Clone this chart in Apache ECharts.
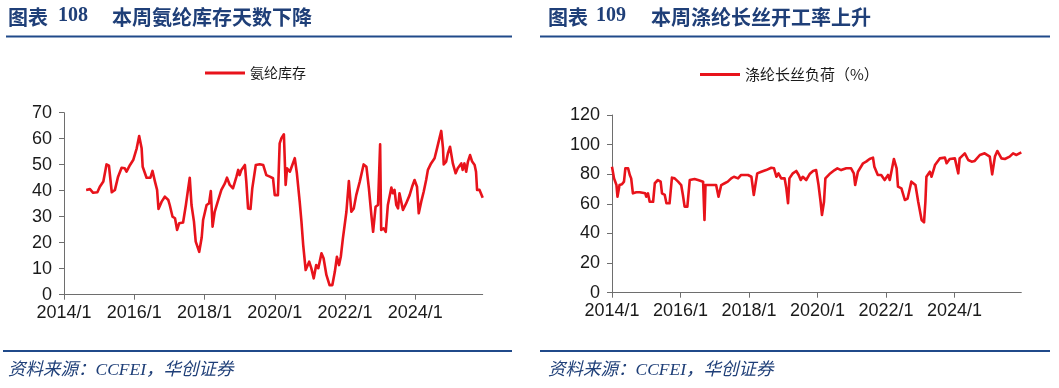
<!DOCTYPE html>
<html>
<head>
<meta charset="utf-8">
<script src="https://cdn.jsdelivr.net/npm/echarts@6/dist/echarts.min.js"></script>
<style>
html,body{margin:0;padding:0;background:#fff;}
#c{width:1059px;height:388px;}
</style>
</head>
<body>
<div id="c"></div>
<script>
// ---------- Data ----------
const xTickYears = [2014, 2016, 2018, 2020, 2022, 2024];

// Left: 氨纶库存 (days)
const spandexYears = [
  2014.63,2014.74,2014.83,2014.95,2015.02,2015.12,2015.17,2015.21,2015.28,2015.36,
  2015.45,2015.54,2015.64,2015.73,2015.78,2015.88,2015.97,2016.07,2016.14,2016.21,
  2016.24,2016.35,2016.46,2016.52,2016.59,2016.65,2016.69,2016.78,2016.87,2016.97,
  2017.01,2017.09,2017.16,2017.22,2017.28,2017.39,2017.47,2017.53,2017.58,2017.63,
  2017.70,2017.75,2017.85,2017.87,2017.92,2017.96,2018.06,2018.13,2018.18,2018.23,
  2018.26,2018.29,2018.39,2018.48,2018.58,2018.64,2018.72,2018.81,2018.91,2018.96,
  2019.00,2019.05,2019.15,2019.19,2019.24,2019.31,2019.36,2019.46,2019.57,2019.67,
  2019.76,2019.86,2019.95,2020.00,2020.09,2020.14,2020.19,2020.26,2020.31,2020.35,
  2020.43,2020.50,2020.57,2020.63,2020.71,2020.76,2020.81,2020.88,2020.92,2020.98,
  2021.04,2021.11,2021.18,2021.24,2021.33,2021.39,2021.47,2021.56,2021.64,2021.71,
  2021.77,2021.83,2021.88,2021.94,2022.04,2022.11,2022.18,2022.25,2022.32,2022.42,
  2022.53,2022.61,2022.68,2022.75,2022.80,2022.87,2022.94,2023.00,2023.03,2023.10,
  2023.16,2023.22,2023.32,2023.36,2023.41,2023.46,2023.51,2023.55,2023.60,2023.65,
  2023.74,2023.84,2023.91,2023.98,2024.05,2024.10,2024.17,2024.24,2024.31,2024.36,
  2024.45,2024.55,2024.62,2024.69,2024.74,2024.79,2024.81,2024.88,2024.93,2024.99,
  2025.07,2025.15,2025.21,2025.31,2025.35,2025.40,2025.45,2025.50,2025.56,2025.62,
  2025.69,2025.73,2025.76,2025.83,2025.92
];
const spandexDays = [
  40.3,40.6,39.2,39.4,41.5,43.5,44.1,50.1,49.6,39.4,
  40.3,45.4,48.8,48.6,47.3,49.9,51.8,56.3,61.0,56.3,
  49.2,45.0,45.0,47.6,43.5,40.3,33.0,35.8,37.7,36.4,
  34.5,30.0,29.4,24.9,27.5,27.8,34.5,40.3,45.0,34.5,
  28.1,20.4,16.5,15.9,22.0,28.7,34.5,35.1,39.9,26.2,
  26.2,31.9,36.4,40.3,42.8,45.0,42.2,40.9,45.4,48.0,
  46.0,48.0,49.9,43.5,33.2,33.0,40.9,49.9,50.2,49.9,
  46.0,45.4,44.8,38.3,38.3,58.2,60.2,61.7,42.2,48.6,
  47.3,49.9,52.5,46.7,35.8,28.1,19.1,9.5,8.8,12.7,
  10.2,6.3,11.4,10.2,15.9,14.0,7.6,3.7,3.7,8.8,
  14.6,11.4,14.6,21.7,31.9,43.7,31.9,33.2,38.3,43.5,
  50.1,49.2,40.9,30.7,24.2,33.8,34.5,57.8,24.9,25.5,
  24.2,34.5,41.2,39.0,40.3,34.5,33.2,39.0,35.8,32.6,
  35.1,38.3,41.5,44.1,41.5,31.3,35.8,39.6,44.1,48.0,
  50.5,52.5,56.3,60.2,63.0,56.3,50.1,51.2,54.4,56.9,
  50.5,46.7,48.6,50.5,48.0,50.5,47.3,51.2,53.7,51.2,
  49.9,47.3,40.3,40.3,37.3
];

// Right: 涤纶长丝负荷（%）
const filamentYears = [
  2014.00,2014.06,2014.13,2014.16,2014.22,2014.29,2014.35,2014.39,2014.47,2014.52,
  2014.56,2014.61,2014.71,2014.81,2014.97,2015.00,2015.05,2015.10,2015.20,2015.25,
  2015.34,2015.42,2015.46,2015.54,2015.59,2015.68,2015.75,2015.83,2015.93,2016.02,
  2016.07,2016.12,2016.20,2016.27,2016.41,2016.51,2016.66,2016.70,2016.73,2016.90,
  2017.04,2017.11,2017.19,2017.29,2017.38,2017.48,2017.56,2017.68,2017.77,2017.97,
  2018.07,2018.14,2018.18,2018.24,2018.36,2018.50,2018.65,2018.73,2018.80,2018.86,
  2018.94,2019.04,2019.09,2019.14,2019.18,2019.28,2019.38,2019.45,2019.51,2019.57,
  2019.67,2019.77,2019.87,2019.96,2020.03,2020.09,2020.13,2020.19,2020.23,2020.35,
  2020.50,2020.58,2020.69,2020.84,2020.98,2021.06,2021.10,2021.18,2021.33,2021.42,
  2021.52,2021.62,2021.66,2021.76,2021.86,2021.96,2022.06,2022.11,2022.23,2022.31,
  2022.35,2022.45,2022.55,2022.63,2022.74,2022.86,2022.94,2023.04,2023.11,2023.15,
  2023.18,2023.28,2023.33,2023.43,2023.57,2023.72,2023.77,2023.86,2024.01,2024.11,
  2024.15,2024.30,2024.40,2024.50,2024.59,2024.74,2024.88,2025.03,2025.10,2025.18,
  2025.25,2025.37,2025.47,2025.61,2025.71,2025.81,2025.95
];
const filamentLoad = [
  85.1,77.2,72.7,64.8,72.7,73.2,75.0,84.0,84.0,79.5,
  77.2,67.1,67.8,67.8,67.1,64.8,67.1,61.4,61.4,73.9,
  76.1,75.0,67.1,66.0,60.4,60.4,77.7,77.2,75.0,72.7,
  66.0,58.1,58.1,76.1,76.8,76.1,75.0,49.1,72.7,72.7,
  72.7,64.8,72.7,73.9,75.0,77.2,78.3,77.2,79.5,79.5,
  78.3,66.0,66.0,80.6,81.7,82.8,84.4,84.0,78.3,80.6,
  77.2,77.2,70.5,60.4,77.2,80.6,82.2,79.5,76.1,78.3,
  76.1,80.1,82.2,82.8,72.7,61.4,52.5,61.4,77.2,80.1,
  82.8,84.0,82.8,84.0,84.0,80.6,72.7,81.7,87.4,88.5,
  90.3,91.2,85.1,79.5,79.5,76.1,79.5,76.1,90.3,84.0,
  71.6,70.5,62.6,63.6,75.0,72.7,61.4,49.1,47.5,61.4,
  78.3,81.7,78.3,86.2,90.7,91.2,87.4,90.3,90.7,80.6,
  90.7,94.1,89.6,88.5,89.0,93.0,94.1,91.9,79.9,91.9,
  95.7,90.7,90.3,91.9,94.1,93.0,94.8
];

const spandexName = '氨纶库存';
const filamentName = '涤纶长丝负荷（%）';

// ---------- Styling ----------
const RED = '#E8131B';
const NAVY = '#1F3F78';
const LINE_BLUE = '#204A8A';
const AXIS = '#6e6e6e';
const LABEL_FONT = '"Liberation Sans", Arial, sans-serif';
const CJK = '"Noto Sans CJK SC", sans-serif';

function pairs(xs, ys) { return xs.map((x, i) => [x, ys[i]]); }

function xAxis(grid, max) {
  return {
    type: 'value', gridIndex: grid, min: 2014, max: max,
    axisLine: { show: true, lineStyle: { color: AXIS, width: 1 } },
    axisTick: { show: true, customValues: xTickYears, length: 5, lineStyle: { color: AXIS } },
    axisLabel: { customValues: xTickYears, formatter: v => v + '/1', fontSize: 18,
                 fontFamily: LABEL_FONT, color: '#1a1a1a', margin: 9 },
    splitLine: { show: false }
  };
}
function yAxis(grid, max, interval) {
  return {
    type: 'value', gridIndex: grid, min: 0, max: max, interval: interval,
    axisLine: { show: true, lineStyle: { color: AXIS, width: 1 } },
    axisTick: { show: true, length: 5, lineStyle: { color: AXIS } },
    axisLabel: { fontSize: 18, fontFamily: LABEL_FONT, color: '#1a1a1a', margin: 12 },
    splitLine: { show: false }
  };
}

function text(x, y, str, font, color, extra) {
  return Object.assign({ type: 'text', left: x, top: y, silent: true,
    style: { text: str, font: font, fill: color } }, extra || {});
}
function hline(x1, x2, y, w) {
  return { type: 'line', silent: true, shape: { x1: x1, y1: y, x2: x2, y2: y },
    style: { stroke: LINE_BLUE, lineWidth: w } };
}

const titleFont = 'bold 20px ' + CJK;
const numFont = 'bold 20px "Liberation Serif", "Times New Roman", serif';
const srcFont = 'italic 17.5px "Liberation Serif", "Noto Sans CJK SC", serif';

const chart = echarts.init(document.getElementById('c'), null, { renderer: 'canvas' });
chart.setOption({
  animation: false,
  backgroundColor: '#ffffff',
  grid: [
    { left: 64, top: 112.7, width: 418.7, height: 182, containLabel: false },
    { left: 612, top: 115, width: 409.3, height: 177.7, containLabel: false }
  ],
  legend: [
    { data: [{ name: spandexName, icon: 'rect' }], left: 205, top: 66, padding: 0, itemWidth: 40, itemHeight: 3,
      itemGap: 5, textStyle: { fontSize: 14, fontFamily: CJK, color: '#1a1a1a' }, selectedMode: false },
    { data: [{ name: filamentName, icon: 'rect' }], left: 700, top: 67, padding: 0, itemWidth: 40, itemHeight: 3,
      itemGap: 5, textStyle: { fontSize: 15, fontFamily: CJK, color: '#1a1a1a' }, selectedMode: false }
  ],
  xAxis: [xAxis(0, 2025.92), xAxis(1, 2025.95)],
  yAxis: [yAxis(0, 70, 10), yAxis(1, 120, 20)],
  series: [
    { name: spandexName, type: 'line', xAxisIndex: 0, yAxisIndex: 0, showSymbol: false,
      data: pairs(spandexYears, spandexDays), itemStyle: { color: RED },
      lineStyle: { color: RED, width: 2.6, join: 'round' } },
    { name: filamentName, type: 'line', xAxisIndex: 1, yAxisIndex: 1, showSymbol: false,
      data: pairs(filamentYears, filamentLoad), itemStyle: { color: RED },
      lineStyle: { color: RED, width: 2.6, join: 'round' } }
  ],
  graphic: [
    text(8, 7, '图表', titleFont, NAVY),
    text(58, 6, '108', numFont, NAVY),
    text(112, 7, '本周氨纶库存天数下降', titleFont, NAVY),
    text(548, 7, '图表', titleFont, NAVY),
    text(596, 6, '109', numFont, NAVY),
    text(651, 7, '本周涤纶长丝开工率上升', titleFont, NAVY),
    hline(6, 512, 36.5, 2),
    hline(540, 1050, 36.5, 2),
    hline(3, 512, 351, 2),
    hline(540, 1050, 351, 2),
    text(8, 362, '资料来源：CCFEI，华创证券', srcFont, NAVY),
    text(548, 362, '资料来源：CCFEI，华创证券', srcFont, NAVY)
  ]
});
</script>
</body>
</html>
